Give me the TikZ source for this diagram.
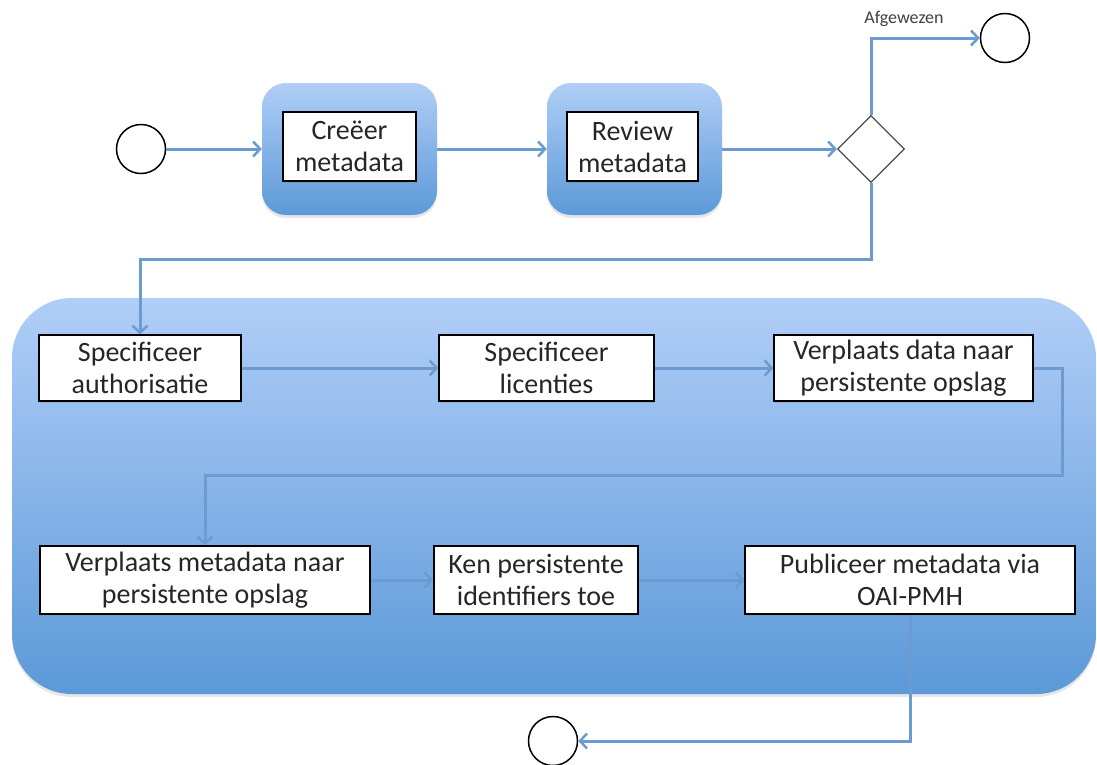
\documentclass[tikz,border=0pt]{standalone}
\usepackage{fontspec}
\setmainfont{Carlito}
\usetikzlibrary{positioning}
\usetikzlibrary{shapes.geometric}
\usetikzlibrary{arrows.meta}
\usetikzlibrary{shadows}

\definecolor{lijnblauw}{HTML}{6C9BD2}
\definecolor{bloktop}{HTML}{B0CEF7}
\definecolor{blokbodem}{HTML}{5C99D8}
\definecolor{tekstgrijs}{HTML}{262626}

\begin{document}
\begin{tikzpicture}[x=1pt, y=-1pt,
    pijl/.style={-{Straight Barb[length=7pt,width=15pt,line width=2.5pt]}, line width=3pt, draw=lijnblauw},
    taak/.style={draw=black, line width=1.2pt, fill=white, text=tekstgrijs, align=center,
                 font=\fontsize{28}{32}\selectfont, inner sep=0pt,
                 drop shadow={shadow xshift=1pt, shadow yshift=-2pt, opacity=0.3}},
    blok/.style={rounded corners=24pt, top color=bloktop, bottom color=blokbodem, draw=none,
                 drop shadow={shadow xshift=0pt, shadow yshift=-3pt, opacity=0.2}},
    gebeurtenis/.style={draw=black, line width=1.5pt, circle, fill=white, minimum size=49pt, inner sep=0pt}]
    \useasboundingbox (0,0) rectangle (1097,764);

    % Knopen
    \node[gebeurtenis] (start) at (141,149) {};
    \node[blok, minimum width=175pt, minimum height=132pt] (blok1) at (349.5,149) {};
    \node[blok, minimum width=175pt, minimum height=132pt] (blok2) at (634.5,149) {};
    \node[taak, minimum width=133pt, minimum height=69pt] (creeer) at (349.5,146.5) {Creëer\\metadata};
    \node[taak, minimum width=131pt, minimum height=69pt] (review) at (632.5,146.5) {Review\\metadata};
    \node[diamond, draw=black!70, line width=1.2pt, fill=white, minimum width=67pt, minimum height=67pt, inner sep=0pt] (ruit) at (871,149) {};
    \node[gebeurtenis] (afgewezen) at (1005,38) {};
    \node[text=black!75, font=\fontsize{18}{20}\selectfont] (label) at (904,19) {Afgewezen};

    \node[blok, rounded corners=60pt, minimum width=1084pt, minimum height=396pt] (fase) at (554,496) {};

    \node[taak, minimum width=202pt, minimum height=66pt] (auth) at (140,368) {Specificeer\\authorisatie};
    \node[taak, minimum width=215pt, minimum height=66pt] (lic) at (546.5,368) {Specificeer\\licenties};
    \node[taak, minimum width=259pt, minimum height=66pt] (vdata) at (903.5,368) {Verplaats data naar\\persistente opslag};
    \node[taak, minimum width=330pt, minimum height=68pt] (vmeta) at (205,580) {Verplaats metadata naar\\persistente opslag};
    \node[taak, minimum width=204pt, minimum height=68pt] (ken) at (536,580) {Ken persistente\\identifiers toe};
    \node[taak, minimum width=330pt, minimum height=68pt] (publ) at (910,580) {Publiceer metadata via\\OAI-PMH};
    \node[gebeurtenis] (einde) at (553,741) {};

    % Pijlen
    \draw[pijl] (start) -- (blok1);
    \draw[pijl] (blok1) -- (blok2);
    \draw[pijl] (blok2) -- (ruit);
    \draw[pijl] (ruit.north) |- (afgewezen);
    \draw[pijl] (ruit.south) -- ++(0,76) -| (auth.north);
    \draw[pijl] (auth) -- (lic);
    \draw[pijl] (lic) -- (vdata);
    \draw[pijl] (vdata.east) -- ++(29,0) -- ++(0,107) -| (vmeta.north);
    \draw[pijl] (vmeta) -- (ken);
    \draw[pijl] (ken) -- (publ);
    \draw[pijl] (publ.south) |- (einde);
\end{tikzpicture}
\end{document}
